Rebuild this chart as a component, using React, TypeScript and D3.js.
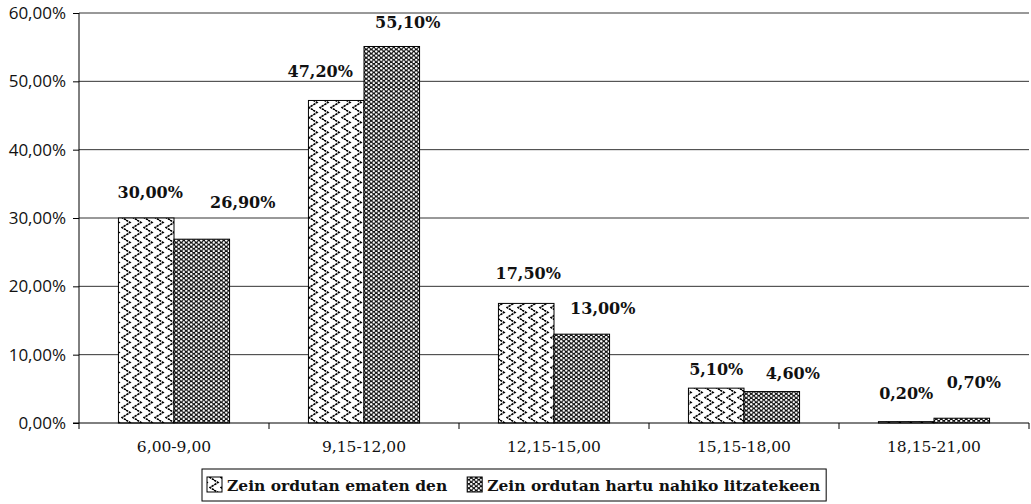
import React, { useEffect, useRef } from "react";
import * as d3 from "d3";

const categories = ["6,00-9,00", "9,15-12,00", "12,15-15,00", "15,15-18,00", "18,15-21,00"];
const seriesNames = ["Zein ordutan ematen den", "Zein ordutan hartu nahiko litzatekeen"];
const emanValues = [30.0, 47.2, 17.5, 5.1, 0.2];
const nahiValues = [26.9, 55.1, 13.0, 4.6, 0.7];
const yTicks = [0, 10, 20, 30, 40, 50, 60];

// hand-placed label nudges, as in the original: [dx from bar centre, gap above bar top]
const labelNudge = [
  [[4, 20], [-16, 23], [2, 24], [0, 13], [0, 23]],
  [[41, 31], [16, 18], [21, 20], [21, 13], [12, 30]],
];

const fmt = (v: number) => v.toFixed(2).replace(".", ",") + "%";

export default function App() {
  const svgRef = useRef<SVGSVGElement | null>(null);

  useEffect(() => {
    document.body.style.margin = "0";
    if (!svgRef.current) return;
    const svg = d3.select(svgRef.current);
    svg.selectAll("*").remove();

    const left = 79, right = 1029, top = 13, bottom = 423;

    const defs = svg.append("defs");
    // zigzag wave pattern
    const wave = defs
      .append("pattern")
      .attr("id", "wave")
      .attr("patternUnits", "userSpaceOnUse")
      .attr("width", 11)
      .attr("height", 10);
    wave.append("rect").attr("width", 11).attr("height", 10).attr("fill", "#fff");
    wave
      .append("path")
      .attr("d", "M5,0 L9,2.5 L5,5 L1,7.5 L5,10")
      .attr("fill", "none")
      .attr("stroke", "#000")
      .attr("stroke-width", 1.6)
      .attr("stroke-dasharray", "2.5 0.8");
    // dotted dark pattern
    const dots = defs
      .append("pattern")
      .attr("id", "dots")
      .attr("patternUnits", "userSpaceOnUse")
      .attr("width", 5)
      .attr("height", 4.2);
    dots.append("rect").attr("width", 5).attr("height", 4.2).attr("fill", "#111");
    dots.append("circle").attr("cx", 1.25).attr("cy", 1.05).attr("r", 1.2).attr("fill", "#fff");
    dots.append("circle").attr("cx", 3.75).attr("cy", 3.15).attr("r", 1.2).attr("fill", "#fff");
    const fills = ["url(#wave)", "url(#dots)"];

    const x0 = d3.scaleBand<string>().domain(categories).range([left, right]).padding(0);
    const x1 = d3
      .scaleBand<number>()
      .domain([0, 1])
      .range([0, x0.bandwidth()])
      .paddingInner(0)
      .paddingOuter(0.71);
    const y = d3.scaleLinear().domain([0, 60]).range([bottom, top]);

    // gridlines
    svg
      .append("g")
      .selectAll("line")
      .data(yTicks.filter((t) => t > 0))
      .join("line")
      .attr("x1", left)
      .attr("x2", right)
      .attr("y1", (d) => y(d))
      .attr("y2", (d) => y(d))
      .attr("stroke", "#333")
      .attr("stroke-width", 1);

    // y axis
    const yAxis = d3
      .axisLeft(y)
      .tickValues(yTicks)
      .tickSize(6)
      .tickFormat((d) => fmt(+d));
    const yg = svg.append("g").attr("transform", `translate(${left},0)`).call(yAxis);
    yg.select(".domain").attr("stroke", "#000").attr("d", `M0,${top}V${bottom}`);
    yg.selectAll(".tick line").attr("stroke", "#000");
    yg.selectAll(".tick text")
      .attr("x", -13)
      .attr("font-family", "'Open Sans', sans-serif")
      .attr("font-size", 17)
      .attr("fill", "#111");

    // bars
    const series = [emanValues, nahiValues];
    series.forEach((vals, si) => {
      svg
        .append("g")
        .selectAll("rect")
        .data(vals)
        .join("rect")
        .attr("x", (_, i) => (x0(categories[i]) as number) + (x1(si) as number))
        .attr("y", (d) => y(d))
        .attr("width", x1.bandwidth())
        .attr("height", (d) => bottom - y(d))
        .attr("fill", fills[si])
        .attr("stroke", "#000")
        .attr("stroke-width", 1);
    });

    // x axis
    const xg = svg.append("g");
    xg.append("line")
      .attr("x1", left - 6)
      .attr("x2", right)
      .attr("y1", bottom)
      .attr("y2", bottom)
      .attr("stroke", "#000");
    const bounds = categories.map((c) => x0(c) as number).concat([right]);
    xg.selectAll("line.tk")
      .data(bounds)
      .join("line")
      .attr("class", "tk")
      .attr("x1", (d) => d)
      .attr("x2", (d) => d)
      .attr("y1", bottom)
      .attr("y2", bottom + 6)
      .attr("stroke", "#000");
    xg.selectAll("text")
      .data(categories)
      .join("text")
      .attr("x", (d) => (x0(d) as number) + x0.bandwidth() / 2)
      .attr("y", 452)
      .attr("text-anchor", "middle")
      .attr("font-family", "'DejaVu Serif', serif")
      .attr("font-size", 15.5)
      .attr("fill", "#111")
      .text((d) => d);

    // value labels
    series.forEach((vals, si) => {
      svg
        .append("g")
        .selectAll("text")
        .data(vals)
        .join("text")
        .attr(
          "x",
          (_, i) =>
            (x0(categories[i]) as number) + (x1(si) as number) + x1.bandwidth() / 2 + labelNudge[si][i][0]
        )
        .attr("y", (d, i) => y(d) - labelNudge[si][i][1])
        .attr("text-anchor", "middle")
        .attr("font-family", "'DejaVu Serif', serif")
        .attr("font-weight", "bold")
        .attr("font-size", 16)
        .attr("fill", "#111")
        .text((d) => fmt(d));
    });

    // legend
    const lg = svg.append("g");
    const box = lg
      .append("rect")
      .attr("x", 202)
      .attr("y", 469)
      .attr("height", 32)
      .attr("fill", "#fff")
      .attr("stroke", "#000");
    let cx = 207;
    seriesNames.forEach((name, si) => {
      lg.append("rect")
        .attr("x", cx)
        .attr("y", 477)
        .attr("width", 15)
        .attr("height", 15)
        .attr("fill", fills[si])
        .attr("stroke", "#000");
      const t = lg
        .append("text")
        .attr("x", cx + 20)
        .attr("y", 491)
        .attr("font-family", "'DejaVu Serif', serif")
        .attr("font-weight", "bold")
        .attr("font-size", 15.5)
        .attr("fill", "#111")
        .text(name);
      const w = (t.node() as SVGTextElement).getComputedTextLength();
      cx = cx + 20 + w + 20;
    });
    box.attr("width", cx - 20 + 6 - 202);
  }, []);

  return <svg ref={svgRef} width={1031} height={504} style={{ display: "block", background: "#fff" }} />;
}
